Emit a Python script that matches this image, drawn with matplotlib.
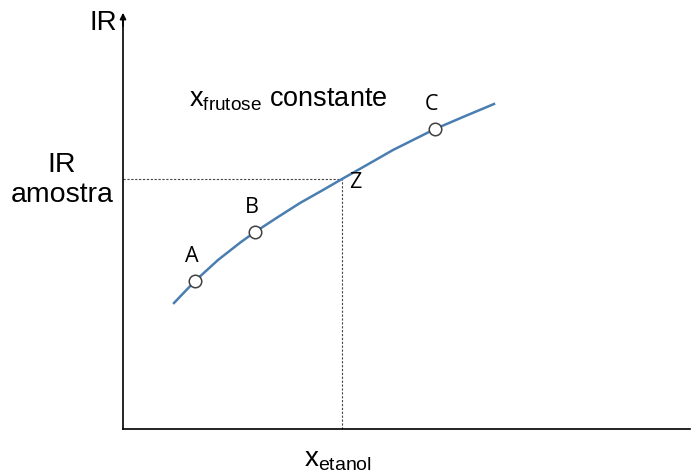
import matplotlib
matplotlib.use("Agg")
import matplotlib.pyplot as plt

# curve (arbitrary units)
curve_x = [51, 72, 95, 118, 132, 155, 177, 200, 219, 242, 270, 290, 312, 340, 371]
curve_y = [126, 148, 169, 187, 197, 212, 226, 239, 250, 263, 279, 289, 300, 312, 325]

# labelled points
pt_names = ["A", "B", "C"]
pt_x = [72, 132, 312]
pt_y = [148, 197, 300]

# sample point Z
z_x, z_y = 219, 250

plt.rcParams['font.family'] = ['Liberation Sans', 'DejaVu Sans']
plt.rcParams['mathtext.fontset'] = 'custom'
plt.rcParams['mathtext.rm'] = 'Liberation Sans'

fig = plt.figure(figsize=(6.92, 4.75), dpi=100)
ax = fig.add_axes([123 / 692, 46 / 475, 567 / 692, 417 / 475])
ax.set_xlim(0, 567)
ax.set_ylim(0, 417)
ax.set_xticks([])
ax.set_yticks([])
for s in ["top", "right"]:
    ax.spines[s].set_visible(False)
ax.spines["left"].set_linewidth(1.2)
ax.spines["bottom"].set_linewidth(1.2)
ax.spines["left"].set_bounds(0, 410)
ax.annotate("", xy=(0, 419), xytext=(0, 400),
            arrowprops=dict(arrowstyle="-|>", color="black", lw=1.2,
                            mutation_scale=9),
            annotation_clip=False)

# guide lines through Z
ax.plot([0, z_x], [z_y, z_y], ls=(0, (2, 1.5)), color="#444444", lw=0.8)
ax.plot([z_x, z_x], [0, z_y], ls=(0, (2, 1.5)), color="#444444", lw=0.8)

ax.plot(curve_x, curve_y, color="#4a7eb0", lw=1.8, zorder=3,
        solid_joinstyle="round")
ax.plot(pt_x, pt_y, "o", ms=9, mfc="white", mec="#404040", mew=1.1, zorder=4)

for n, x, y in zip(pt_names, pt_x, pt_y):
    ax.text(x - 3, y + 14, n, fontsize=15.5, family=['Open Sans', 'DejaVu Sans'],
            ha="center", va="bottom")
ax.text(z_x + 7, z_y - 3, "Z", fontsize=15.5, family=['Open Sans', 'DejaVu Sans'],
        ha="left", va="center")

ax.text(-6, 406, "IR", fontsize=20, ha="right", va="center", clip_on=False)
ax.text(-61, 249, "IR\namostra", fontsize=20.5, ha="center", va="center",
        linespacing=1.15, clip_on=False)
ax.text(66, 329, r"$\mathregular{x_{frutose}}$ constante", fontsize=19.5,
        ha="left", va="center")
ax.text(181, -31, r"$\mathregular{x_{etanol}}$", fontsize=20,
        ha="left", va="center", clip_on=False)

fig.savefig("out.png", dpi=100)
